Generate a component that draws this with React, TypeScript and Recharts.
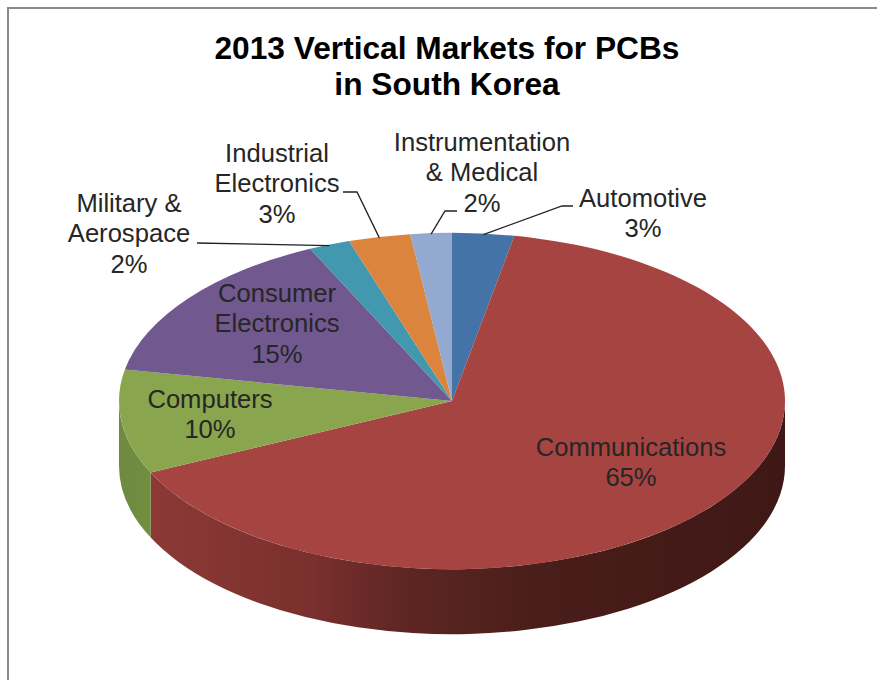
import React from "react";
import { PieChart, Pie } from "recharts";

const categories = [
  "Automotive",
  "Communications",
  "Computers",
  "Consumer Electronics",
  "Military & Aerospace",
  "Industrial Electronics",
  "Instrumentation & Medical",
];
const values = [3, 65, 10, 15, 2, 3, 2];
const colors = ["#4573A7", "#A64442", "#89A54E", "#71588F", "#4198AF", "#DB843D", "#93A9CF"];
const labelLines = [
  ["Automotive", "3%"],
  ["Communications", "65%"],
  ["Computers", "10%"],
  ["Consumer", "Electronics", "15%"],
  ["Military &", "Aerospace", "2%"],
  ["Industrial", "Electronics", "3%"],
  ["Instrumentation", "& Medical", "2%"],
];
const titleLines = ["2013 Vertical Markets for PCBs", "in South Korea"];

const data = categories.map((name, i) => ({ name, value: values[i], fill: colors[i] }));

const W = 877;
const H = 680;
const CX = 452;
const CY = 401;
const RX = 333;
const TILT = 0.505;
const DEPTH = 65;
const FONT = "'Liberation Sans', Arial, sans-serif";

// label block centre and first baseline, relative to the pie centre
const labelPlace: Record<number, { dx: number; y: number }> = {
  0: { dx: 191, y: -194 },
  1: { dx: 179, y: 55 },
  2: { dx: -242, y: 7 },
  3: { dx: -175, y: -99 },
  4: { dx: -323, y: -189 },
  5: { dx: -175, y: -239 },
  6: { dx: 30, y: -250 },
};
// elbow of the leader line: start (near text) and knee, relative to the pie centre
const leaders: Record<number, [number, number][]> = {
  0: [[121, -195], [110, -195]],
  4: [[-255, -158]],
  5: [[-109, -209], [-95, -209]],
  6: [[5, -190], [-7, -190]],
};

const wallStops: Record<number, [number, string][]> = {
  1: [
    [0, "#8C3936"],
    [0.25, "#7A302E"],
    [0.4, "#5E2623"],
    [0.6, "#4A1E1A"],
    [0.85, "#431A17"],
    [1, "#3F1815"],
  ],
  2: [
    [0, "#6E8A3F"],
    [1, "#728E41"],
  ],
};

const pt = (a: number, cy: number, rx: number, ry: number) => {
  const r = (a * Math.PI) / 180;
  return [CX + rx * Math.cos(r), cy - ry * Math.sin(r)];
};

function Slice(props: any) {
  const { startAngle, endAngle, outerRadius, cx, cy, fill, index } = props;
  const rx = outerRadius;
  const ry = rx * TILT;
  const [sx, sy] = pt(startAngle, cy, rx, ry);
  const [ex, ey] = pt(endAngle, cy, rx, ry);
  const large = Math.abs(startAngle - endAngle) > 180 ? 1 : 0;
  const top = `M${cx},${cy} L${sx},${sy} A${rx},${ry} 0 ${large} 1 ${ex},${ey} Z`;

  const a0 = Math.min(startAngle, 0);
  const a1 = Math.max(endAngle, -180);
  let wall = null;
  if (a0 > a1) {
    const [x0, y0] = pt(a0, cy, rx, ry);
    const [x1, y1] = pt(a1, cy, rx, ry);
    const id = `wall-${index}`;
    const stops = wallStops[index] ?? [[0, fill]];
    wall = (
      <g>
        <defs>
          <linearGradient id={id} gradientUnits="userSpaceOnUse" x1={x1} y1={0} x2={x0} y2={0}>
            {stops.map(([o, c]) => (
              <stop key={o} offset={o} stopColor={c} />
            ))}
          </linearGradient>
        </defs>
        <path
          d={`M${x0},${y0} A${rx},${ry} 0 0 1 ${x1},${y1} L${x1},${y1 + DEPTH} A${rx},${ry} 0 0 0 ${x0},${y0 + DEPTH} Z`}
          fill={`url(#${id})`}
        />
      </g>
    );
  }
  return (
    <g>
      {wall}
      <path d={top} fill={fill} />
    </g>
  );
}

function SliceLabel(props: any) {
  const { cx, cy, midAngle, outerRadius, index } = props;
  const place = labelPlace[index];
  const lines = labelLines[index];
  const knees = leaders[index];
  const [ax, ay] = pt(midAngle, cy, outerRadius, outerRadius * TILT);
  return (
    <g>
      {knees && (
        <polyline
          points={[...knees.map(([x, y]) => `${cx + x},${cy + y}`), `${ax},${ay + 1}`].join(" ")}
          fill="none"
          stroke="#222222"
          strokeWidth={1.3}
        />
      )}
      <text
        x={cx + place.dx}
        y={cy + place.y}
        textAnchor="middle"
        fontFamily={FONT}
        fontSize={25.6}
        fill="#262626"
      >
        {lines.map((t: string, i: number) => (
          <tspan key={i} x={cx + place.dx} y={cy + place.y + i * 30.3}>
            {t}
          </tspan>
        ))}
      </text>
    </g>
  );
}

export default function App() {
  return (
    <div style={{ position: "absolute", left: 0, top: 0, width: W, height: H, background: "#fff", overflow: "hidden" }}>
      <div
        style={{
          position: "absolute",
          left: 7,
          top: 7,
          width: W,
          height: H,
          borderLeft: "2px solid #8a8a8a",
          borderTop: "2px solid #8a8a8a",
        }}
      />
      <div style={{ position: "absolute", left: 0, top: 0 }}>
        <PieChart width={W} height={H} margin={{ top: 0, right: 0, bottom: 0, left: 0 }}>
          <text textAnchor="middle" fontFamily={FONT} fontWeight="bold" fontSize={31.7} fill="#000">
            {titleLines.map((t, i) => (
              <tspan key={t} x={447} y={58.5 + i * 36}>
                {t}
              </tspan>
            ))}
          </text>
          <Pie
            data={data}
            dataKey="value"
            nameKey="name"
            cx={CX}
            cy={CY}
            innerRadius={0}
            outerRadius={RX}
            startAngle={90}
            endAngle={-270}
            stroke="none"
            isAnimationActive={false}
            shape={Slice}
            label={SliceLabel}
            labelLine={false}
          />
        </PieChart>
      </div>
    </div>
  );
}
